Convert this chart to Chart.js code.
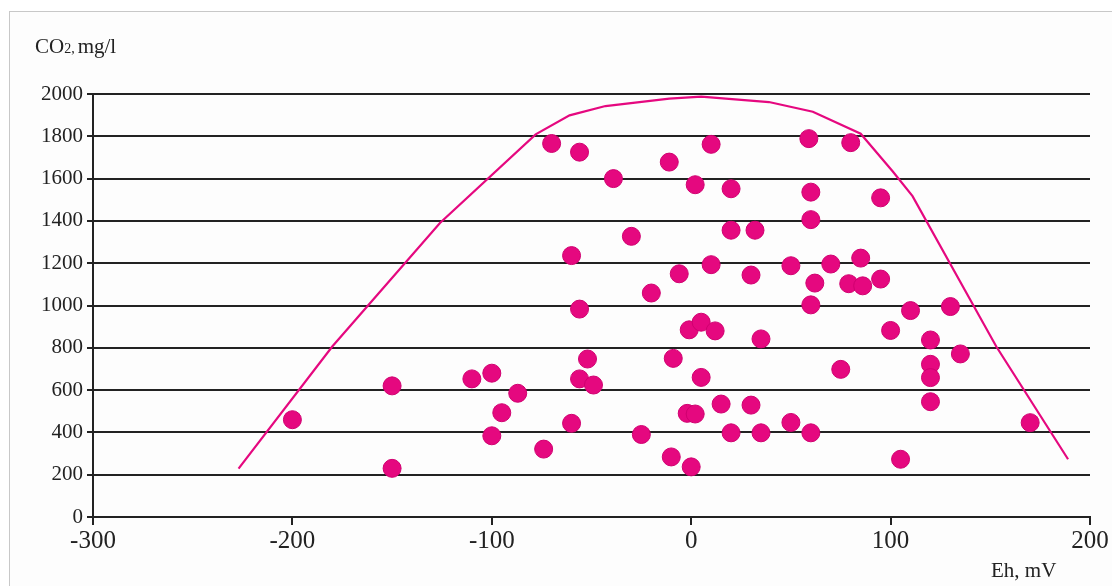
<!DOCTYPE html>
<html>
<head>
<meta charset="utf-8">
<script src="https://cdn.jsdelivr.net/npm/chart.js@4"></script>
<style>
  html, body { margin: 0; padding: 0; background: #fff; }
  #wrap { position: relative; width: 1112px; height: 586px; }
  #frame { position: absolute; left: 9px; top: 11px; right: -2px; bottom: -2px; border: 1px solid #c8c8c8; background: #fdfdfd; }
</style>
</head>
<body>
<div id="wrap">
  <div id="frame"></div>
  <canvas id="co2Chart" width="1112" height="586" style="position:absolute;left:0;top:0;"></canvas>
</div>
<script>
// measured points: Eh (mV) vs CO2 (mg/l)
const ehValues = [
  -200, -150, -150, -110, -100, -87, -95, -100, -74, -70,
  -56, -39, -30, -60, -56, -52, -56, -49, -60, -20,
  -25, -11, 10, 2, 20, 20, 32, 59, 80, 60,
  60, 95, -6, 10, 30, 50, 70, 85, 62, 79,
  86, 95, 60, 110, 130, 100, -1, 5, 12, 35,
  120, 135, -9, 75, 5, 120, 120, 120, 15, 30,
  -2, 2, 50, 20, 35, 60, -10, 0, 105, 170
];
const co2Values = [
  460, 620, 230, 653, 680, 585, 493, 384, 321, 1766,
  1725, 1600, 1327, 1236, 983, 747, 653, 624, 443, 1059,
  390, 1678, 1762, 1571, 1552, 1356, 1356, 1789, 1770, 1536,
  1406, 1509, 1150, 1193, 1144, 1188, 1196, 1224, 1106, 1103,
  1093, 1125, 1003, 976, 995, 882, 885, 921, 880, 842,
  837, 771, 750, 698, 660, 722, 659, 545, 534, 529,
  490, 487, 447, 398, 398, 398, 284, 237, 273, 446
];

// upper envelope line
const envelopeEh = [-227, -180, -126, -78, -61, -43, -11, 5, 39, 61, 85, 101, 111, 153, 189];
const envelopeCo2 = [229, 806, 1390, 1809, 1899, 1943, 1978, 1988, 1962, 1916, 1812, 1635, 1517, 806, 273];

const xTicks = [-300, -200, -100, 0, 100, 200];
const yTicks = [0, 200, 400, 600, 800, 1000, 1200, 1400, 1600, 1800, 2000];

const pink = '#e5087f';
const ink = '#222';
const serif = "'Liberation Serif', 'DejaVu Serif', serif";

const points = ehValues.map((x, i) => ({ x: x, y: co2Values[i] }));
const envelope = envelopeEh.map((x, i) => ({ x: x, y: envelopeCo2[i] }));

// axis titles drawn as text, with a small "2," in CO2
const axisTitles = {
  id: 'axisTitles',
  afterDraw(chart) {
    const ctx = chart.ctx;
    ctx.save();
    ctx.fillStyle = ink;
    ctx.textBaseline = 'alphabetic';
    ctx.textAlign = 'left';
    ctx.font = '21px ' + serif;
    let x = 35;
    const base = 53;
    ctx.fillText('CO', x, base);
    x += ctx.measureText('CO').width;
    ctx.font = '14px ' + serif;
    ctx.fillText('2,', x, base);
    x += ctx.measureText('2,').width + 3;
    ctx.font = '21px ' + serif;
    ctx.fillText('mg/l', x, base);
    ctx.fillText('Eh, mV', 991, 577);
    ctx.restore();
  }
};

new Chart(document.getElementById('co2Chart').getContext('2d'), {
  type: 'scatter',
  data: {
    datasets: [
      {
        type: 'line',
        data: envelope,
        borderColor: pink,
        borderWidth: 2.2,
        pointRadius: 0,
        tension: 0,
        fill: false
      },
      {
        data: points,
        backgroundColor: pink,
        borderColor: '#d00070',
        borderWidth: 1,
        pointRadius: 9,
        pointHoverRadius: 9
      }
    ]
  },
  options: {
    responsive: false,
    animation: false,
    layout: { padding: { left: 0, right: 22, top: 94, bottom: 0 } },
    plugins: { legend: { display: false }, tooltip: { enabled: false } },
    scales: {
      x: {
        type: 'linear',
        min: -300,
        max: 200,
        afterBuildTicks: s => { s.ticks = xTicks.map(v => ({ value: v })); },
        afterFit: s => { s.height = 69; },
        grid: { drawOnChartArea: false, drawTicks: true, tickLength: 8, color: ink, lineWidth: 2 },
        border: { display: true, color: ink, width: 2 },
        ticks: { color: ink, font: { family: serif, size: 25 }, padding: 1, maxRotation: 0, callback: v => String(v) }
      },
      y: {
        type: 'linear',
        min: 0,
        max: 2000,
        afterBuildTicks: s => { s.ticks = yTicks.map(v => ({ value: v })); },
        afterFit: s => { s.width = 93; },
        grid: { color: ink, lineWidth: 2, drawTicks: true, tickLength: 6 },
        border: { display: true, color: ink, width: 2 },
        ticks: { color: ink, font: { family: serif, size: 21 }, padding: 4, callback: v => String(v) }
      }
    }
  },
  plugins: [axisTitles]
});
</script>
</body>
</html>
